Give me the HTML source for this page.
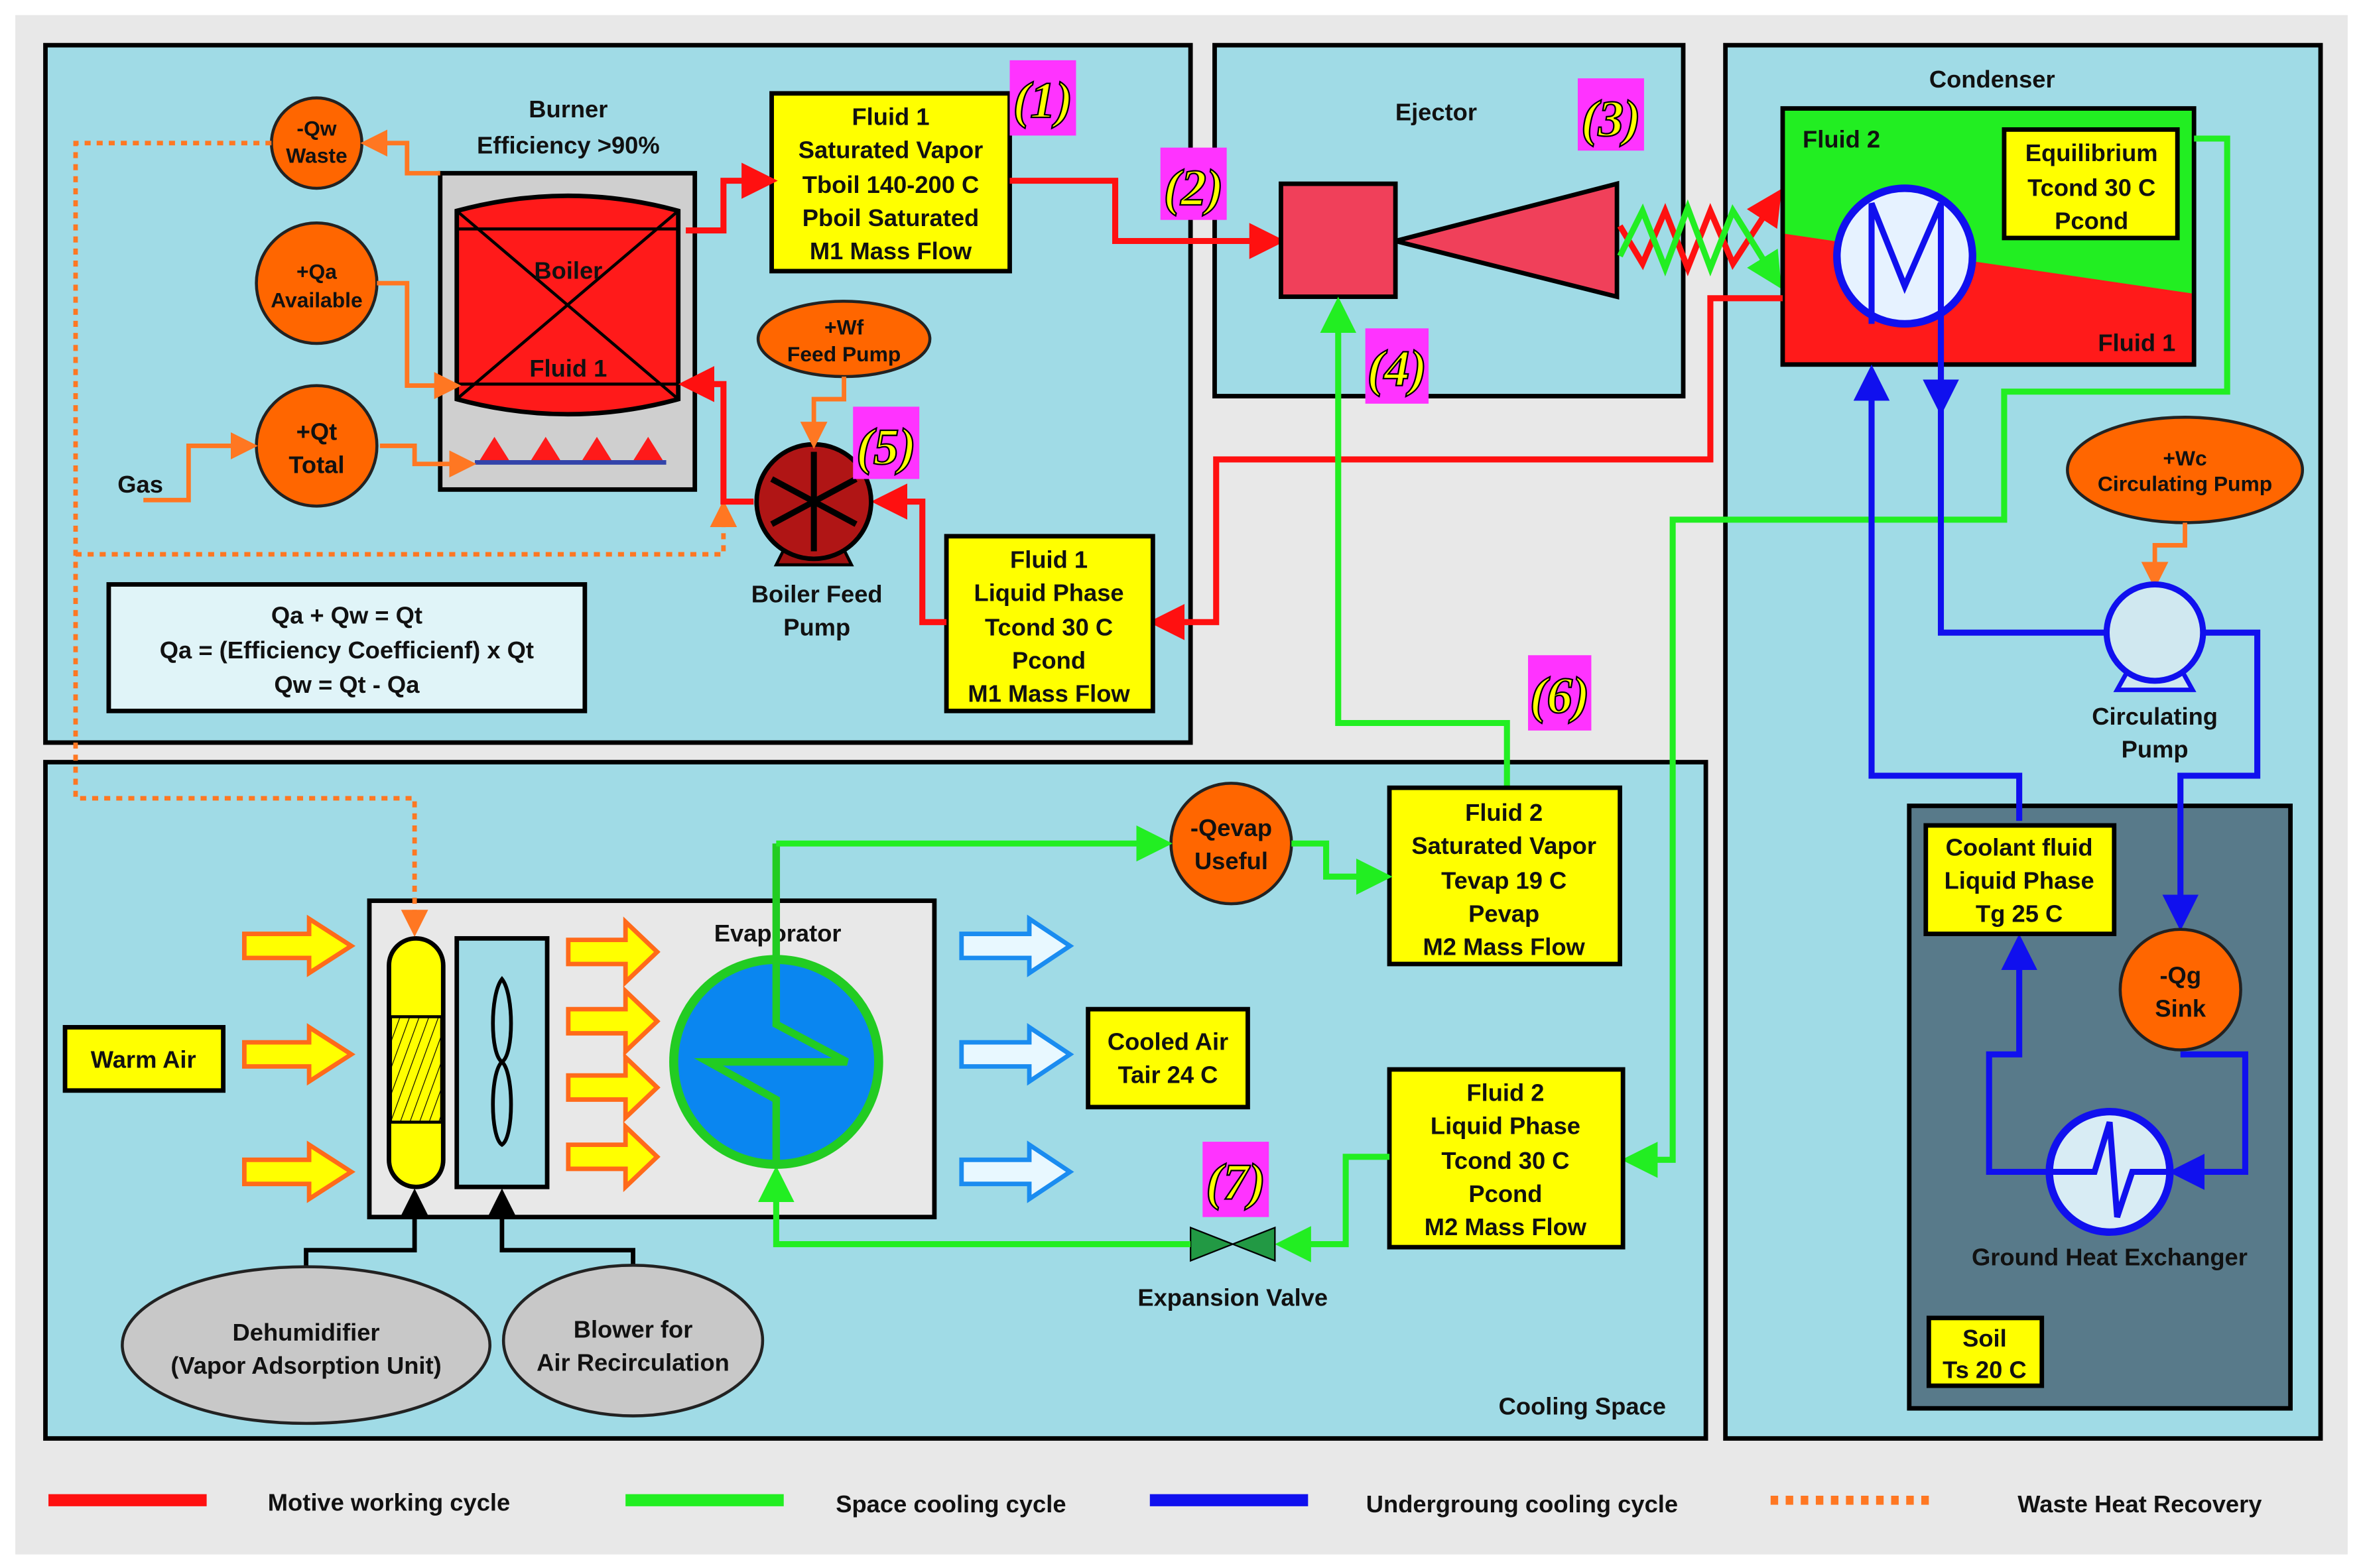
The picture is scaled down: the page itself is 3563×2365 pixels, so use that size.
<!DOCTYPE html>
<html><head><meta charset="utf-8"><style>
html,body{margin:0;padding:0;background:#fff}
svg{display:block}
text{font-family:"Liberation Sans",sans-serif;font-weight:bold;font-size:16px;fill:#111;text-anchor:middle}
.bx{stroke:#000;stroke-width:3}
.y{fill:#ffff00;stroke:#000;stroke-width:3}
.tag{fill:#ff33ff}
.tg{font-family:"Liberation Serif",serif;font-style:italic;font-size:34px;fill:#ffff00;stroke:#000;stroke-width:1}
.r{fill:none;stroke:#ff1010;stroke-width:4}
.g{fill:none;stroke:#22ee22;stroke-width:4}
.b{fill:none;stroke:#1010ee;stroke-width:4}
.o{fill:none;stroke:#ff7722;stroke-width:3}
.od{fill:none;stroke:#ff7722;stroke-width:3;stroke-dasharray:4 4}
.oc{fill:#ff6600;stroke:#222;stroke-width:2}
</style></head><body>
<svg width="3563" height="2365" viewBox="0 0 1568 1041" xmlns="http://www.w3.org/2000/svg">
<defs>
<marker id="ar" markerWidth="6" markerHeight="6" refX="4" refY="3" orient="auto"><path d="M0,0 L6,3 L0,6 z" fill="#ff1010"/></marker>
<marker id="ag" markerWidth="6" markerHeight="6" refX="4" refY="3" orient="auto"><path d="M0,0 L6,3 L0,6 z" fill="#22ee22"/></marker>
<marker id="ab" markerWidth="6" markerHeight="6" refX="4" refY="3" orient="auto"><path d="M0,0 L6,3 L0,6 z" fill="#1010ee"/></marker>
<marker id="ao" markerWidth="6" markerHeight="6" refX="4" refY="3" orient="auto"><path d="M0,0 L6,3 L0,6 z" fill="#ff7722"/></marker>
<marker id="ak" markerWidth="6" markerHeight="6" refX="4" refY="3" orient="auto"><path d="M0,0 L6,3 L0,6 z" fill="#000"/></marker>
<pattern id="hatch" width="6" height="6" patternUnits="userSpaceOnUse" patternTransform="rotate(20)"><rect width="6" height="6" fill="#ffff00"/><line x1="0" y1="0" x2="0" y2="6" stroke="#000" stroke-width="1"/></pattern>
</defs>
<rect x="0" y="0" width="1568" height="1041" fill="#fff"/>
<rect x="10" y="10" width="1548" height="1022" fill="#e8e8e8"/>
<rect x="30" y="30" width="760" height="463" fill="#a0dbe6" class="bx"/>
<rect x="806" y="30" width="311" height="233" fill="#a0dbe6" class="bx"/>
<rect x="1145" y="30" width="395" height="925" fill="#a0dbe6" class="bx"/>
<rect x="30" y="506" width="1102" height="449" fill="#a0dbe6" class="bx"/>
<rect x="1267" y="535" width="253" height="400" fill="#587a8a" class="bx"/>

<text x="377" y="78">Burner</text><text x="377" y="102">Efficiency &gt;90%</text>
<rect x="292" y="115" width="169" height="210" fill="#cfcfcf" class="bx"/>
<path d="M303,140 Q377,120 450,140 L450,265 Q377,285 303,265 Z" fill="#ff1a1a" stroke="#000" stroke-width="3"/>
<line x1="303" y1="152" x2="450" y2="152" stroke="#000" stroke-width="2"/>
<line x1="303" y1="255" x2="450" y2="255" stroke="#000" stroke-width="2"/>
<line x1="303" y1="140" x2="450" y2="265" stroke="#000" stroke-width="2"/>
<line x1="450" y1="140" x2="303" y2="265" stroke="#000" stroke-width="2"/>
<text x="377" y="185">Boiler</text><text x="377" y="250">Fluid 1</text>
<g fill="#ff1a1a"><path d="M318,306 L328,290 L338,306Z"/><path d="M352,306 L362,290 L372,306Z"/><path d="M386,306 L396,290 L406,306Z"/><path d="M420,306 L430,290 L440,306Z"/></g>
<line x1="315" y1="307" x2="442" y2="307" stroke="#3344aa" stroke-width="3"/>

<circle cx="210" cy="95" r="30" class="oc"/><text x="210" y="90" style="font-size:14px">-Qw</text><text x="210" y="108" style="font-size:14px">Waste</text>
<circle cx="210" cy="188" r="40" class="oc"/><text x="210" y="185" style="font-size:14px">+Qa</text><text x="210" y="204" style="font-size:14px">Available</text>
<circle cx="210" cy="296" r="40" class="oc"/><text x="210" y="292">+Qt</text><text x="210" y="314">Total</text>
<text x="93" y="327">Gas</text>
<path d="M95,332 L125,332 L125,296 L165,296" class="o" marker-end="url(#ao)"/>
<path d="M252,296 L275,296 L275,308 L310,308" class="o" marker-end="url(#ao)"/>
<path d="M250,188 L270,188 L270,256 L300,256" class="o" marker-end="url(#ao)"/>
<path d="M292,115 L270,115 L270,95 L245,95" class="o" marker-end="url(#ao)"/>
<path d="M50,368 L480,368 L480,338" class="od" marker-end="url(#ao)"/>

<rect x="72" y="388" width="316" height="84" fill="#e0f4f8" class="bx"/>
<text x="230" y="414">Qa + Qw = Qt</text><text x="230" y="437">Qa = (Efficiency Coefficienf) x Qt</text><text x="230" y="460">Qw = Qt - Qa</text>

<rect x="512" y="62" width="158" height="118" class="y"/>
<text x="591" y="83">Fluid 1</text><text x="591" y="105">Saturated Vapor</text><text x="591" y="128">Tboil 140-200 C</text><text x="591" y="150">Pboil Saturated</text><text x="591" y="172">M1 Mass Flow</text>
<path d="M455,153 L480,153 L480,120 L508,120" class="r" marker-end="url(#ar)"/>
<path d="M670,120 L740,120 L740,160 L845,160" class="r" marker-end="url(#ar)"/>
<rect x="670" y="40" width="44" height="50" class="tag"/><text x="692" y="78" class="tg">(1)</text>
<rect x="770" y="98" width="44" height="48" class="tag"/><text x="792" y="136" class="tg">(2)</text>

<text x="953" y="80">Ejector</text>
<rect x="850" y="122" width="76" height="75" fill="#f0405a" class="bx"/>
<path d="M926,160 L1073,122 L1073,197 Z" fill="#f0405a" class="bx"/>
<path d="M1075,150 L1090,175 L1105,140 L1120,178 L1135,140 L1150,175 L1178,132" class="r" marker-end="url(#ar)"/>
<path d="M1075,170 L1090,140 L1105,178 L1120,138 L1135,178 L1150,140 L1178,185" class="g" marker-end="url(#ag)"/>
<rect x="1047" y="52" width="44" height="48" class="tag"/><text x="1069" y="90" class="tg">(3)</text>
<rect x="906" y="218" width="42" height="50" class="tag"/><text x="927" y="256" class="tg">(4)</text>

<text x="1322" y="58">Condenser</text>
<rect x="1183" y="72" width="273" height="170" fill="#ff1a1a"/>
<path d="M1183,72 L1456,72 L1456,195 L1183,155 Z" fill="#22ee22"/>
<rect x="1183" y="72" width="273" height="170" fill="none" class="bx"/>
<text x="1222" y="98">Fluid 2</text><text x="1418" y="233">Fluid 1</text>
<rect x="1330" y="86" width="115" height="72" class="y"/>
<text x="1388" y="107">Equilibrium</text><text x="1388" y="130">Tcond 30 C</text><text x="1388" y="152">Pcond</text>
<circle cx="1264" cy="170" r="45" fill="#e6f2ff" stroke="#1010ee" stroke-width="5"/>
<path d="M1242,215 L1242,135 L1264,190 L1288,135 L1288,215" fill="none" stroke="#1010ee" stroke-width="4"/>

<path d="M1183,198 L1135,198 L1135,305 L807,305 L807,413 L770,413" class="r" marker-end="url(#ar)"/>
<rect x="628" y="356" width="137" height="116" class="y"/>
<text x="696" y="377">Fluid 1</text><text x="696" y="399">Liquid Phase</text><text x="696" y="422">Tcond 30 C</text><text x="696" y="444">Pcond</text><text x="696" y="466">M1 Mass Flow</text>
<path d="M628,413 L612,413 L612,333 L586,333" class="r" marker-end="url(#ar)"/>
<path d="M500,333 L480,333 L480,255 L458,255" class="r" marker-end="url(#ar)"/>
<path d="M515,375 L565,375 L555,355 L525,355Z" fill="#a01010" stroke="#000" stroke-width="2"/>
<circle cx="540" cy="333" r="38" fill="#b01515" stroke="#000" stroke-width="3"/>
<g stroke="#000" stroke-width="4"><line x1="540" y1="300" x2="540" y2="366"/><line x1="512" y1="318" x2="568" y2="348"/><line x1="512" y1="348" x2="568" y2="318"/></g>
<text x="542" y="400">Boiler Feed</text><text x="542" y="422">Pump</text>
<ellipse cx="560" cy="225" rx="57" ry="25" class="oc"/><text x="560" y="222" style="font-size:14px">+Wf</text><text x="560" y="240" style="font-size:14px">Feed Pump</text>
<path d="M560,250 L560,265 L540,265 L540,292" class="o" marker-end="url(#ao)"/>
<rect x="566" y="270" width="44" height="48" class="tag"/><text x="588" y="308" class="tg">(5)</text>

<path d="M1456,92 L1478,92 L1478,260 L1330,260 L1330,345 L1110,345 L1110,770 L1084,770" class="g" marker-end="url(#ag)"/>
<path d="M1000,522 L1000,480 L888,480 L888,205" class="g" marker-end="url(#ag)"/>
<rect x="1014" y="435" width="42" height="50" class="tag"/><text x="1035" y="473" class="tg">(6)</text>

<rect x="922" y="523" width="153" height="117" class="y"/>
<text x="998" y="545">Fluid 2</text><text x="998" y="567">Saturated Vapor</text><text x="998" y="590">Tevap 19 C</text><text x="998" y="612">Pevap</text><text x="998" y="634">M2 Mass Flow</text>
<circle cx="817" cy="560" r="40" class="oc"/><text x="817" y="555">-Qevap</text><text x="817" y="577">Useful</text>
<path d="M857,560 L880,560 L880,582 L916,582" class="g" marker-end="url(#ag)"/>
<rect x="922" y="710" width="155" height="118" class="y"/>
<text x="999" y="731">Fluid 2</text><text x="999" y="753">Liquid Phase</text><text x="999" y="776">Tcond 30 C</text><text x="999" y="798">Pcond</text><text x="999" y="820">M2 Mass Flow</text>
<path d="M922,768 L893,768 L893,826 L854,826" class="g" marker-end="url(#ag)"/>
<rect x="798" y="758" width="44" height="50" class="tag"/><text x="820" y="796" class="tg">(7)</text>
<path d="M790,815 L818,826 L790,837Z M846,815 L818,826 L846,837Z" fill="#229944" stroke="#000" stroke-width="1"/>
<text x="818" y="867">Expansion Valve</text>

<rect x="245" y="598" width="375" height="210" fill="#e8e8e8" class="bx"/>
<path d="M180,95 L50,95 L50,530 L275,530 L275,616" class="od" marker-end="url(#ao)"/>
<text x="516" y="625">Evaporator</text>
<path d="M790,826 L515,826 L515,782" class="g" marker-end="url(#ag)"/>
<circle cx="515" cy="705" r="68" fill="#0a86f0" stroke="#22cc22" stroke-width="6"/>
<path d="M515,560 L515,680 L562,705 L470,705 L515,730 L515,775" fill="none" stroke="#22cc22" stroke-width="5"/>
<path d="M515,560 L770,560" class="g" marker-end="url(#ag)"/>

<rect x="258" y="623" width="36" height="165" rx="18" fill="#ffff00" stroke="#000" stroke-width="3"/>
<rect x="259" y="675" width="34" height="70" fill="url(#hatch)" stroke="#000" stroke-width="2"/>
<rect x="303" y="623" width="60" height="165" fill="#a0dbe6" class="bx"/>
<path d="M333,650 C325,660 325,700 333,705 C325,712 325,755 333,760 C341,755 341,712 333,705 C341,700 341,660 333,650Z" fill="none" stroke="#000" stroke-width="2.5"/>
<g fill="#ffff00" stroke="#ff6a1a" stroke-width="3">
<path d="M162,620 L205,620 L205,610 L233,628 L205,646 L205,636 L162,636Z"/>
<path d="M162,692 L205,692 L205,682 L233,700 L205,718 L205,708 L162,708Z"/>
<path d="M162,770 L205,770 L205,760 L233,778 L205,796 L205,786 L162,786Z"/>
<path d="M377,624 L415,624 L415,612 L436,632 L415,652 L415,640 L377,640Z"/>
<path d="M377,670 L415,670 L415,658 L436,678 L415,698 L415,686 L377,686Z"/>
<path d="M377,714 L415,714 L415,702 L436,722 L415,742 L415,730 L377,730Z"/>
<path d="M377,760 L415,760 L415,748 L436,768 L415,788 L415,776 L377,776Z"/>
</g>
<g fill="#e8f8ff" stroke="#1a8cf0" stroke-width="3">
<path d="M638,620 L683,620 L683,610 L710,628 L683,646 L683,636 L638,636Z"/>
<path d="M638,692 L683,692 L683,682 L710,700 L683,718 L683,708 L638,708Z"/>
<path d="M638,770 L683,770 L683,760 L710,778 L683,796 L683,786 L638,786Z"/>
</g>
<rect x="43" y="682" width="105" height="42" class="y"/><text x="95" y="709">Warm Air</text>
<rect x="722" y="670" width="106" height="65" class="y"/><text x="775" y="697">Cooled Air</text><text x="775" y="719">Tair 24 C</text>
<path d="M203,841 L203,830 L275,830 L275,795" fill="none" stroke="#000" stroke-width="3" marker-end="url(#ak)"/>
<path d="M420,840 L420,830 L333,830 L333,795" fill="none" stroke="#000" stroke-width="3" marker-end="url(#ak)"/>
<ellipse cx="203" cy="893" rx="122" ry="52" fill="#c8c8c8" stroke="#222" stroke-width="2"/>
<text x="203" y="890">Dehumidifier</text><text x="203" y="912">(Vapor Adsorption Unit)</text>
<ellipse cx="420" cy="890" rx="86" ry="50" fill="#c8c8c8" stroke="#222" stroke-width="2"/>
<text x="420" y="888">Blower for</text><text x="420" y="910">Air Recirculation</text>
<text x="1050" y="939">Cooling Space</text>

<path d="M1340,545 L1340,515 L1242,515 L1242,250" class="b" marker-end="url(#ab)"/>
<path d="M1288,215 L1288,420 L1400,420" class="b"/>
<path d="M1288,215 L1288,268" class="b" marker-end="url(#ab)"/>
<path d="M1460,420 L1498,420 L1498,515 L1447,515 L1447,610" class="b" marker-end="url(#ab)"/>
<path d="M1447,700 L1490,700 L1490,778 L1447,778" class="b" marker-end="url(#ab)"/>
<path d="M1360,778 L1320,778 L1320,700 L1340,700 L1340,628" class="b" marker-end="url(#ab)"/>
<ellipse cx="1450" cy="312" rx="78" ry="35" class="oc"/><text x="1450" y="309" style="font-size:14px">+Wc</text><text x="1450" y="326" style="font-size:14px">Circulating Pump</text>
<path d="M1450,347 L1450,362 L1430,362 L1430,385" class="o" marker-end="url(#ao)"/>
<path d="M1405,458 L1455,458 L1445,440 L1415,440Z" fill="#d0e8f0" stroke="#1010ee" stroke-width="3"/>
<circle cx="1430" cy="420" r="32" fill="#d0e8f0" stroke="#1010ee" stroke-width="4"/>
<text x="1430" y="481">Circulating</text><text x="1430" y="503">Pump</text>
<rect x="1278" y="548" width="125" height="72" class="y"/>
<text x="1340" y="568">Coolant fluid</text><text x="1340" y="590">Liquid Phase</text><text x="1340" y="612">Tg 25 C</text>
<circle cx="1447" cy="657" r="40" class="oc"/><text x="1447" y="653">-Qg</text><text x="1447" y="675">Sink</text>
<circle cx="1400" cy="778" r="40" fill="#d8ecf4" stroke="#1010ee" stroke-width="5"/>
<path d="M1362,778 L1390,778 L1400,745 L1405,808 L1415,778 L1438,778" fill="none" stroke="#1010ee" stroke-width="4"/>
<text x="1400" y="840">Ground Heat Exchanger</text>
<rect x="1280" y="875" width="75" height="45" class="y"/><text x="1317" y="894">Soil</text><text x="1317" y="915">Ts 20 C</text>

<line x1="32" y1="996" x2="137" y2="996" stroke="#ff1010" stroke-width="8"/><text x="258" y="1003">Motive working cycle</text>
<line x1="415" y1="996" x2="520" y2="996" stroke="#22ee22" stroke-width="8"/><text x="631" y="1004">Space cooling cycle</text>
<line x1="763" y1="996" x2="868" y2="996" stroke="#1010ee" stroke-width="8"/><text x="1010" y="1004">Undergroung cooling cycle</text>
<line x1="1175" y1="996" x2="1280" y2="996" stroke="#ff7722" stroke-width="6" stroke-dasharray="5 5"/><text x="1420" y="1004">Waste Heat Recovery</text>
</svg>
</body></html>
